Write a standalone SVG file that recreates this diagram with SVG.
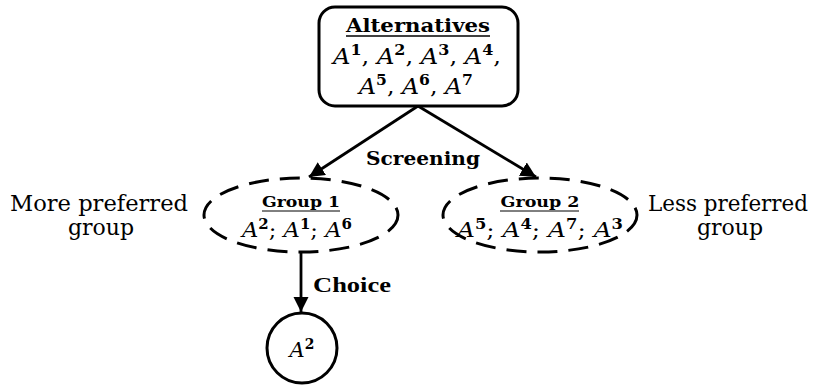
<svg xmlns="http://www.w3.org/2000/svg" width="814" height="385" viewBox="0 0 814 385">
<defs>
<marker id="ah" viewBox="0 0 10 10" refX="10" refY="5" markerWidth="5.5" markerHeight="5.5" markerUnits="strokeWidth" orient="auto">
<path d="M0,0 L10,5 L0,10 Z" fill="#000"/>
</marker>
<style>
.t{text-anchor:middle}
.b{font-weight:bold}
.i{font-style:italic}
.s{font-weight:bold;font-style:normal;font-size:0.66em}
.edge{stroke:#000;stroke-width:2.8;fill:none;marker-end:url(#ah)}
.dash{stroke:#000;stroke-width:3;fill:#fff;stroke-dasharray:20 11}
</style>
</defs>
<rect width="814" height="385" fill="#fff"/>
<g font-family="DejaVu Serif, Liberation Serif, serif" fill="#000">
<g id="connectors">
<line class="edge" x1="418" y1="106" x2="309" y2="177"/>
<line class="edge" x1="418" y1="106" x2="536" y2="177"/>
<line class="edge" x1="301" y1="253" x2="301" y2="312"/>
<text x="423" y="165" class="t b" font-size="19" textLength="114" lengthAdjust="spacingAndGlyphs">Screening</text>
<text x="313" y="292" class="b" font-size="20" font-family="Liberation Serif, serif" textLength="78" lengthAdjust="spacingAndGlyphs">Choice</text>
</g>
<g id="alternatives">
<rect x="319" y="7" width="199" height="99" rx="16" fill="#fff" stroke="#000" stroke-width="3"/>
<text x="418" y="32" class="t b" font-size="19" textLength="144" lengthAdjust="spacingAndGlyphs">Alternatives</text>
<line x1="346" y1="36" x2="490" y2="36" stroke="#000" stroke-width="1.3"/>
<text x="417" y="64" class="t" font-size="23" textLength="168" lengthAdjust="spacingAndGlyphs"><tspan class="i">A</tspan><tspan class="s" dy="-9">1</tspan><tspan dy="9">, </tspan><tspan class="i">A</tspan><tspan class="s" dy="-9">2</tspan><tspan dy="9">, </tspan><tspan class="i">A</tspan><tspan class="s" dy="-9">3</tspan><tspan dy="9">, </tspan><tspan class="i">A</tspan><tspan class="s" dy="-9">4</tspan><tspan dy="9">,</tspan></text>
<text x="416" y="94" class="t" font-size="23" textLength="114" lengthAdjust="spacingAndGlyphs"><tspan class="i">A</tspan><tspan class="s" dy="-9">5</tspan><tspan dy="9">, </tspan><tspan class="i">A</tspan><tspan class="s" dy="-9">6</tspan><tspan dy="9">, </tspan><tspan class="i">A</tspan><tspan class="s" dy="-9">7</tspan></text>
</g>
<g id="group1">
<ellipse class="dash" cx="301" cy="215" rx="97" ry="37"/>
<text x="301" y="207" class="t b" font-size="14" textLength="78" lengthAdjust="spacingAndGlyphs">Group 1</text>
<line x1="262" y1="211" x2="340" y2="211" stroke="#000" stroke-width="1"/>
<text x="297" y="237" class="t" font-size="21" textLength="110" lengthAdjust="spacingAndGlyphs"><tspan class="i">A</tspan><tspan class="s" dy="-8">2</tspan><tspan dy="8">; </tspan><tspan class="i">A</tspan><tspan class="s" dy="-8">1</tspan><tspan dy="8">; </tspan><tspan class="i">A</tspan><tspan class="s" dy="-8">6</tspan></text>
</g>
<g id="group2">
<ellipse class="dash" cx="540" cy="215" rx="97" ry="37"/>
<text x="540" y="207" class="t b" font-size="14" textLength="79" lengthAdjust="spacingAndGlyphs">Group 2</text>
<line x1="500" y1="211" x2="579" y2="211" stroke="#000" stroke-width="1"/>
<text x="540" y="237" class="t" font-size="21" textLength="166" lengthAdjust="spacingAndGlyphs"><tspan class="i">A</tspan><tspan class="s" dy="-8">5</tspan><tspan dy="8">; </tspan><tspan class="i">A</tspan><tspan class="s" dy="-8">4</tspan><tspan dy="8">; </tspan><tspan class="i">A</tspan><tspan class="s" dy="-8">7</tspan><tspan dy="8">; </tspan><tspan class="i">A</tspan><tspan class="s" dy="-8">3</tspan></text>
</g>
<g id="more-label">
<text x="99" y="211" class="t" font-size="22" textLength="178" lengthAdjust="spacingAndGlyphs">More preferred</text>
<text x="101" y="235" class="t" font-size="22">group</text>
</g>
<g id="less-label">
<text x="728" y="211" class="t" font-size="22" textLength="160" lengthAdjust="spacingAndGlyphs">Less preferred</text>
<text x="730" y="235" class="t" font-size="22">group</text>
</g>
<g id="result">
<circle cx="302" cy="348" r="35" fill="#fff" stroke="#000" stroke-width="3"/>
<text x="302" y="357" class="t" font-size="21"><tspan class="i">A</tspan><tspan class="s" dy="-8">2</tspan></text>
</g>
</g>
</svg>
